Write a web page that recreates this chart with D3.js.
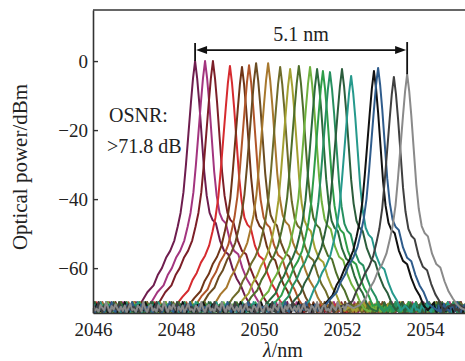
<!DOCTYPE html>
<html>
<head>
<meta charset="utf-8">
<script src="https://cdn.jsdelivr.net/npm/d3@7"></script>
<style>
  body { margin: 0; background: #fff; }
</style>
</head>
<body>
<div id="chart"></div>
<script>
// peak wavelength (nm) and peak power (dBm) of each channel
const peakWl = [2048.46, 2048.70, 2048.89, 2049.30, 2049.59, 2049.76, 2049.93, 2050.22, 2050.51, 2050.75, 2050.96,
                2051.23, 2051.40, 2051.54, 2051.71, 2052.00, 2052.22, 2052.77, 2052.87, 2053.25, 2053.57];
const peakPow = [0, 0, 0, -1.4, -1.7, -1.2, -0.6, -0.6, -1.7, -2.3, -1.4,
                 -1.7, -2.3, -2.9, -3.2, -2.3, -4.3, -2.9, -2.0, -4.6, -3.8];
const chColors = ["#6e1d4e", "#a3357f", "#7c1f28", "#d62b2f", "#6f3518", "#b0562a", "#6b4c22", "#a7782e", "#6e6b2a", "#a3a032", "#4e6e2a",
                  "#6fb13e", "#2b6b3b", "#2e9d48", "#279060", "#2b5d3c", "#26998c", "#111111", "#2f5c8c", "#404040", "#8a8a8a"];

// spectral shape around a peak (offset nm -> dB below peak)
const profOffset = [-1.45, -1.3, -1.15, -1.0, -0.9, -0.8, -0.7, -0.6, -0.5, -0.42, -0.35, -0.28, -0.22, -0.16, -0.1, -0.05, 0,
                    0.05, 0.1, 0.16, 0.22, 0.28, 0.35, 0.42, 0.5, 0.6, 0.7, 0.8, 0.9, 1.0, 1.1, 1.2, 1.3, 1.45];
const profLevel = [-73, -70, -67, -65, -62, -60, -57, -55, -52, -48, -44, -38, -30, -21, -12, -5, 0,
                   -5, -12, -22, -32, -39, -44, -46, -47, -52, -55, -56, -60, -63, -65, -68, -70, -73];

// noise floor samples (dBm)
const floorNoise = [-71.2, -72.4, -70.8, -72.9, -71.6, -70.3, -72.1, -71.9, -72.7, -70.9, -71.4, -72.5, -69.8, -71.7, -72.8, -71.1,
                    -70.6, -72.3, -71.8, -72.6, -70.7, -71.5, -72.2, -69.9, -71.3, -72.9, -71.0, -72.0, -70.5, -71.6, -72.4];
const floorStep = 0.045;

const xTicks = [2046, 2048, 2050, 2052, 2054];
const yTicks = [0, -20, -40, -60];
const spanLabel = "5.1 nm";

const W = 465, H = 361;
const margin = { top: 10, right: 0, bottom: 48, left: 93 };
const FONT = "Liberation Serif";

const svg = d3.select("#chart").append("svg")
    .attr("width", W)
    .attr("height", H);

const x = d3.scaleLinear().domain([2046, 2055]).range([margin.left, margin.left + 9 * 41.5]);
const y = d3.scaleLinear().domain([-73, 14.8]).range([H - margin.bottom, margin.top]);

svg.append("defs").append("clipPath").attr("id", "plotclip")
  .append("rect")
    .attr("x", margin.left)
    .attr("y", margin.top)
    .attr("width", W - margin.left)
    .attr("height", y(-73) - margin.top);

// build each trace
function buildTrace(ch) {
    let pts = [];
    let lo = peakWl[ch] + profOffset[0];
    let hi = peakWl[ch] + profOffset[profOffset.length - 1];
    let k = 0;
    for (let wl = 2046; wl < lo; wl += floorStep, k++) {
        pts.push([wl, floorNoise[(k + ch * 7) % floorNoise.length]]);
    }
    profOffset.forEach((o, i) => {
        let v = peakPow[ch] + profLevel[i];
        let f = floorNoise[(k + i + ch * 7) % floorNoise.length];
        pts.push([peakWl[ch] + o, Math.max(v, f)]);
    });
    k += profOffset.length;
    let start = Math.ceil((hi - 2046) / floorStep) * floorStep + 2046;
    for (let wl = start; wl <= 2055.2; wl += floorStep, k++) {
        pts.push([wl, floorNoise[(k + ch * 7) % floorNoise.length]]);
    }
    return pts;
}

const line = d3.line()
    .x(d => x(d[0]))
    .y(d => y(d[1]));

const traces = svg.append("g").attr("clip-path", "url(#plotclip)");
peakWl.forEach((wl, ch) => {
    traces.append("path")
        .attr("d", line(buildTrace(ch)))
        .attr("fill", "none")
        .attr("stroke", chColors[ch])
        .attr("stroke-width", 2)
        .attr("stroke-linejoin", "round");
});

// axes
const axisColor = "#333";
const xAxis = svg.append("g")
    .attr("transform", `translate(0,${y(-73)})`)
    .call(d3.axisBottom(x).tickValues(xTicks).tickFormat(d3.format("d")).tickSize(-5).tickSizeOuter(0).tickPadding(10));
const yAxis = svg.append("g")
    .attr("transform", `translate(${margin.left},0)`)
    .call(d3.axisLeft(y).tickValues(yTicks).tickSize(-5).tickSizeOuter(0).tickPadding(5));
[xAxis, yAxis].forEach(g => {
    g.attr("font-family", FONT).attr("font-size", 19);
    g.select(".domain").attr("stroke", axisColor).attr("stroke-width", 1.6);
    g.selectAll(".tick line").attr("stroke", axisColor).attr("stroke-width", 1.4);
    g.selectAll(".tick text")
        .attr("font-family", FONT)
        .attr("font-size", 19)
        .attr("fill", "#222");
});
// top frame line
svg.append("line")
    .attr("x1", margin.left).attr("x2", W)
    .attr("y1", margin.top).attr("y2", margin.top)
    .attr("stroke", axisColor).attr("stroke-width", 1.6);

// axis titles
svg.append("text")
    .attr("transform", `translate(27,167) rotate(-90)`)
    .attr("text-anchor", "middle")
    .attr("font-family", FONT)
    .attr("font-size", 21)
    .attr("fill", "#222")
    .text("Optical power/dBm");
const xt = svg.append("text")
    .attr("x", 283)
    .attr("y", 357)
    .attr("text-anchor", "middle")
    .attr("font-family", FONT)
    .attr("font-size", 20)
    .attr("fill", "#222");
xt.append("tspan").attr("font-style", "italic").text("λ");
xt.append("tspan").text("/nm");

// OSNR note
svg.append("text").attr("x", 109).attr("y", 122).attr("font-family", FONT).attr("font-size", 20).attr("fill", "#222").text("OSNR:");
svg.append("text").attr("x", 107).attr("y", 153).attr("font-family", FONT).attr("font-size", 20).attr("fill", "#222").text(">71.8 dB");

// span arrow between first and last channel
const ax1 = x(peakWl[0]), ax2 = x(peakWl[peakWl.length - 1]);
const ay = y(3.2);
const ann = svg.append("g").attr("stroke", "#111").attr("fill", "#111");
ann.append("line").attr("x1", ax1 + 8).attr("x2", ax2 - 8).attr("y1", ay).attr("y2", ay).attr("stroke-width", 1.8);
ann.append("line").attr("x1", ax1).attr("x2", ax1).attr("y1", ay - 7).attr("y2", y(peakPow[0])).attr("stroke-width", 1.8);
ann.append("line").attr("x1", ax2).attr("x2", ax2).attr("y1", ay - 8).attr("y2", y(peakPow[peakPow.length - 1])).attr("stroke-width", 1.8);
ann.append("path").attr("stroke", "none")
    .attr("d", `M${ax1 + 1},${ay} L${ax1 + 12},${ay - 4} L${ax1 + 12},${ay + 4} Z`);
ann.append("path").attr("stroke", "none")
    .attr("d", `M${ax2 - 1},${ay} L${ax2 - 12},${ay - 4} L${ax2 - 12},${ay + 4} Z`);
svg.append("text")
    .attr("x", (ax1 + ax2) / 2)
    .attr("y", 41)
    .attr("text-anchor", "middle")
    .attr("font-family", FONT)
    .attr("font-size", 20)
    .attr("fill", "#222")
    .text(spanLabel);
</script>
</body>
</html>
